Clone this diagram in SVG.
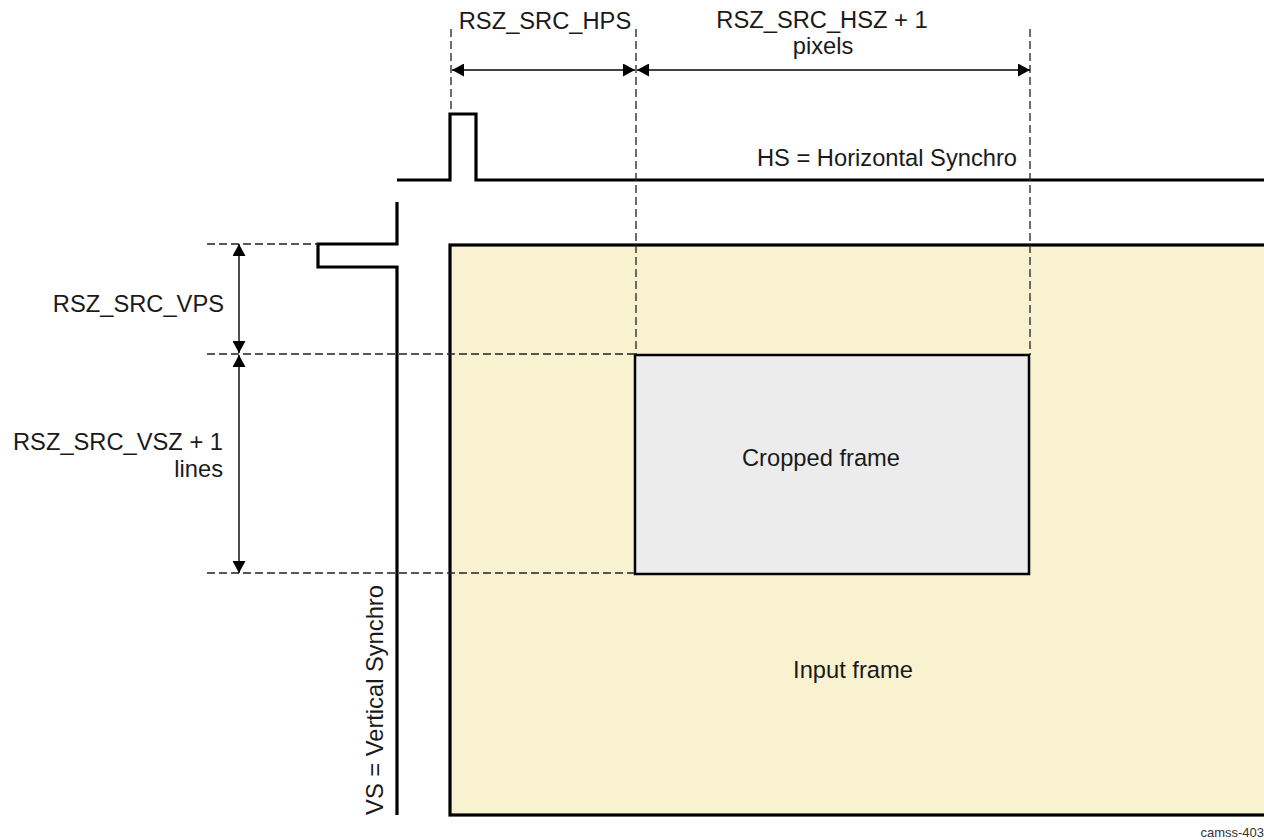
<svg xmlns="http://www.w3.org/2000/svg" width="1264" height="840" viewBox="0 0 1264 840">
<style>
text{font-family:"Liberation Sans",Arial,sans-serif;font-size:23.7px;fill:#1a1a1a}
.dash{stroke:#222;stroke-width:1.3;stroke-dasharray:8,4;fill:none}
.sig{stroke:#000;stroke-width:3.2;fill:none}
.dim{stroke:#000;stroke-width:1.4;fill:none;marker-start:url(#ah);marker-end:url(#ah)}
</style>
<defs>
<marker id="ah" viewBox="0 0 12 13" refX="12" refY="6.5" markerWidth="12" markerHeight="13" markerUnits="userSpaceOnUse" orient="auto-start-reverse">
<path d="M0,0 L12,6.5 L0,13 Z" fill="#000"/>
</marker>
</defs>
<rect width="1264" height="840" fill="#fff"/>
<g id="input-frame">
<rect x="450" y="245" width="830" height="570" fill="#F9F2D0" stroke="#000" stroke-width="3.2"/>
<text x="853" y="678" text-anchor="middle">Input frame</text>
</g>
<g id="cropped-frame">
<rect x="635" y="355" width="394" height="219" fill="#ECECEC" stroke="#000" stroke-width="2.5"/>
<text x="821" y="466" text-anchor="middle">Cropped frame</text>
</g>
<g id="hs-signal">
<path class="sig" d="M397,180 H450 V114 H476 V180 H1264"/>
<text x="1017" y="166" text-anchor="end">HS = Horizontal Synchro</text>
</g>
<g id="vs-signal">
<path class="sig" d="M397,202 V244 H318 V267 H397 V815"/>
<text transform="translate(383,700) rotate(-90)" text-anchor="middle">VS = Vertical Synchro</text>
</g>
<g id="connectors">
<line class="dash" x1="451" y1="29" x2="451" y2="113"/>
<line class="dash" x1="636" y1="29" x2="636" y2="355"/>
<line class="dash" x1="1030" y1="29" x2="1030" y2="355"/>
<line class="dash" x1="207" y1="244" x2="318" y2="244"/>
<line class="dash" x1="207" y1="354" x2="635" y2="354"/>
<line class="dash" x1="207" y1="573" x2="635" y2="573"/>
<line class="dim" x1="452" y1="70" x2="635" y2="70"/>
<line class="dim" x1="637" y1="70" x2="1030" y2="70"/>
<line class="dim" x1="239" y1="244" x2="239" y2="353"/>
<line class="dim" x1="239" y1="355" x2="239" y2="573"/>
</g>
<g id="labels">
<text x="545" y="29" text-anchor="middle">RSZ_SRC_HPS</text>
<text x="822" y="28" text-anchor="middle">RSZ_SRC_HSZ + 1</text>
<text x="823" y="54" text-anchor="middle">pixels</text>
<text x="224" y="312" text-anchor="end">RSZ_SRC_VPS</text>
<text x="223" y="450" text-anchor="end">RSZ_SRC_VSZ + 1</text>
<text x="223" y="477" text-anchor="end">lines</text>
<text x="1264" y="837" text-anchor="end" style="font-size:13px;fill:#333">camss-403</text>
</g>
</svg>
